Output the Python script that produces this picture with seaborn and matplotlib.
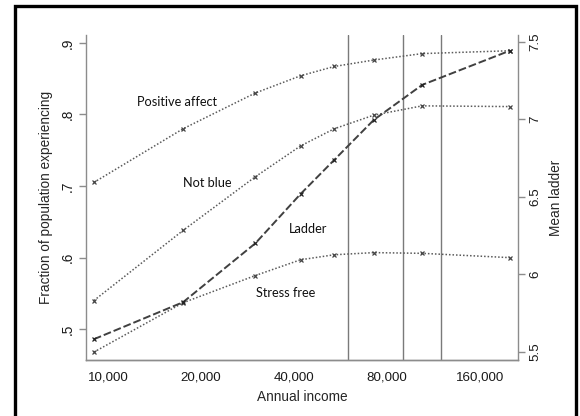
import matplotlib
matplotlib.use("Agg")
import matplotlib.pyplot as plt
import pandas as pd
import seaborn as sns
from matplotlib.patches import Rectangle
from matplotlib.ticker import FixedLocator, NullLocator

# income bracket midpoints
income = [9000, 17500, 30000, 42000, 54000, 72500, 104000, 200000]
positive_affect = [0.705, 0.780, 0.830, 0.854, 0.867, 0.876, 0.885, 0.889]
not_blue = [0.540, 0.638, 0.713, 0.756, 0.780, 0.799, 0.812, 0.811]
stress_free = [0.468, 0.537, 0.575, 0.597, 0.604, 0.607, 0.606, 0.600]
ladder = [5.582, 5.821, 6.201, 6.519, 6.739, 6.997, 7.223, 7.444]

threshold_lines = [60000, 90000, 120000]
x_ticks = [10000, 20000, 40000, 80000, 160000]
left_ticks = [0.5, 0.6, 0.7, 0.8, 0.9]
left_labels = [".5", ".6", ".7", ".8", ".9"]
right_ticks = [5.5, 6.0, 6.5, 7.0, 7.5]
right_labels = ["5.5", "6", "6.5", "7", "7.5"]

series_labels = {
    "Positive affect": (16700, 0.818),
    "Not blue": (20900, 0.704),
    "Ladder": (44500, 0.640),
    "Stress free": (37700, 0.551),
}

sns.set_theme(style="white")
plt.rcParams["font.family"] = ["Liberation Sans", "DejaVu Sans"]

fig = plt.figure(figsize=(5.8, 4.16), dpi=100)
ax = fig.add_axes([0.1483, 0.1346, 0.8931 - 0.1483, 0.9159 - 0.1346])
ax2 = ax.twinx()

df = pd.DataFrame({
    "income": income,
    "positive": positive_affect,
    "notblue": not_blue,
    "stress": stress_free,
    "ladder": ladder,
})

dot_color = "#5a5a5a"
for col in ["positive", "notblue", "stress"]:
    sns.lineplot(data=df, x="income", y=col, ax=ax, color=dot_color,
                 linestyle=(0, (1, 1.3)), linewidth=1.1, marker="x",
                 markersize=3.5, markeredgewidth=0.9, markeredgecolor="#444444")

sns.lineplot(data=df, x="income", y="ladder", ax=ax2, color="#404040",
             linestyle=(0, (4, 1.5)), linewidth=1.4, marker="x",
             markersize=3.5, markeredgewidth=0.9, markeredgecolor="#222222")

for v in threshold_lines:
    ax.axvline(v, color="#7a7a7a", linewidth=1.0, zorder=0)

ax.set_xscale("log", base=2)
ax.set_xlim(8490, 212400)
ax.set_ylim(0.457, 0.911)
ax2.set_ylim(5.448, 7.545)

ax.xaxis.set_major_locator(FixedLocator(x_ticks))
ax.xaxis.set_minor_locator(NullLocator())
ax.set_xticklabels([f"{t:,}" for t in x_ticks], fontsize=9.6)
ax.set_yticks(left_ticks)
ax.set_yticklabels(left_labels, rotation=90, va="center", fontsize=9.8)
ax2.set_yticks(right_ticks)
ax2.set_yticklabels(right_labels, rotation=90, va="center", fontsize=9.6)

ax.set_xlabel("Annual income", fontsize=9.8, labelpad=5)
ax.set_ylabel("Fraction of population experiencing", fontsize=9.8, labelpad=6)
ax2.set_ylabel("Mean ladder", fontsize=9.8, labelpad=6)

spine_color = "#8c8c8c"
for a in (ax, ax2):
    a.spines["top"].set_visible(False)
    for s in ("left", "right", "bottom"):
        a.spines[s].set_color(spine_color)
        a.spines[s].set_linewidth(1.0)
    a.tick_params(axis="both", which="major", direction="out", length=5,
                  width=1.0, color=spine_color, pad=3, labelcolor="#1a1a1a")
ax2.spines["left"].set_visible(False)
ax.spines["right"].set_visible(False)
ax2.grid(False)
ax.grid(False)

for name, (lx, ly) in series_labels.items():
    ax.text(lx, ly, name, ha="center", va="center", fontsize=9.2,
            family=["Lato", "DejaVu Sans"], color="#111111")

fig.patches.append(Rectangle((15 / 580, -0.02), (576 - 15) / 580, 1.02 - 6 / 416,
                             transform=fig.transFigure, fill=False,
                             edgecolor="black", linewidth=2.4))

fig.savefig("out.png", dpi=100)
